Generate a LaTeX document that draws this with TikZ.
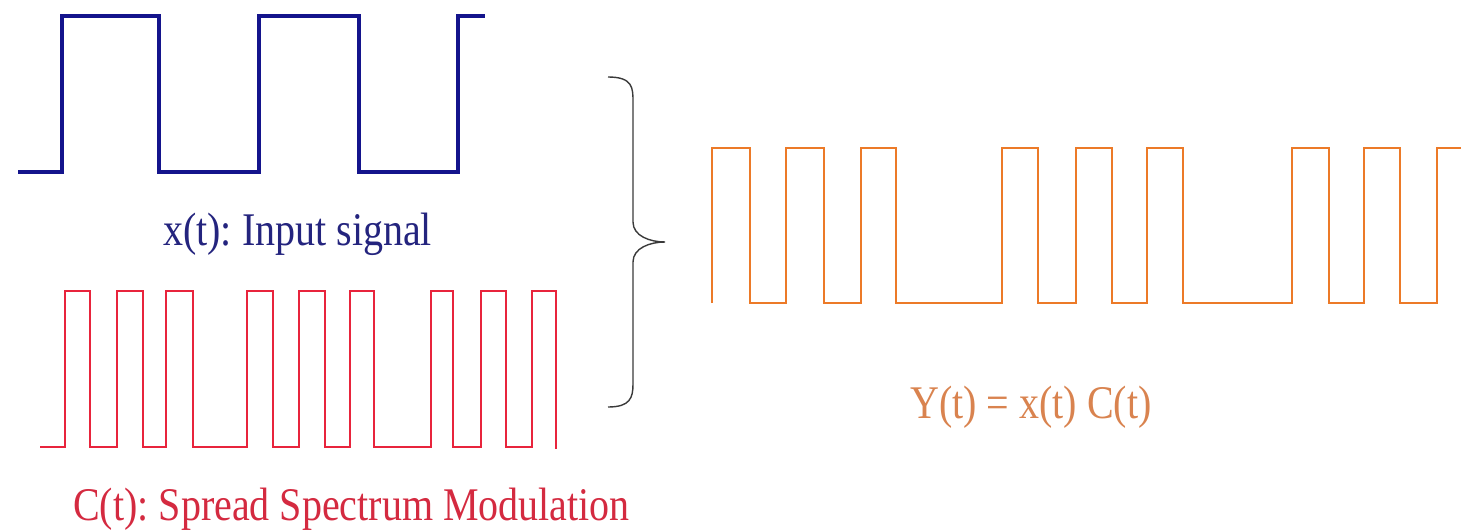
\documentclass[tikz,border=0pt]{standalone}
\usepackage{fontspec}
\setmainfont{Liberation Serif}
\frenchspacing
\definecolor{sigblue}{HTML}{14148C}
\definecolor{sigred}{HTML}{E8243C}
\definecolor{txtred}{HTML}{D42A40}
\definecolor{sigorange}{HTML}{EC7A28}
\definecolor{txtorange}{HTML}{D9834F}
\definecolor{txtblue}{HTML}{24247E}
\definecolor{bracegray}{HTML}{3A3A3A}
\begin{document}
\begin{tikzpicture}[x=1pt,y=-1pt,
  wave/.style={line join=miter},
  bluewave/.style={wave,draw=sigblue,line width=4pt},
  redwave/.style={wave,draw=sigred,line width=2.9pt},
  orangewave/.style={wave,draw=sigorange,line width=2.8pt},
  lbl/.style={anchor=base west,inner sep=0pt,font=\fontsize{40}{48}\selectfont},
  bracestyle/.style={draw=bracegray,line width=1.4pt}]
\useasboundingbox (0,0) rectangle (1461,532);
% x(t)
\draw[bluewave] (18,172) -- (62,172) -- (62,16) -- (159,16) -- (159,172) -- (259,172) -- (259,16) -- (359,16) -- (359,172) -- (458,172) -- (458,16) -- (485,16);
\node[lbl,text=txtblue] (xlabel) at (163,245) {\scalebox{1}[1.17]{x(t): Input signal}};
% C(t)
\draw[redwave] (40,447) -- (65,447) -- (65,291) -- (90,291) -- (90,447) -- (117,447) -- (117,291) -- (143,291) -- (143,447) -- (166,447) -- (166,291) -- (193,291) -- (193,447) -- (247,447) -- (247,291) -- (273,291) -- (273,447) -- (299,447) -- (299,291) -- (325,291) -- (325,447) -- (350,447) -- (350,291) -- (374,291) -- (374,447) -- (431,447) -- (431,291) -- (453,291) -- (453,447) -- (481,447) -- (481,291) -- (506,291) -- (506,447) -- (532,447) -- (532,291) -- (556,291) -- (556,449);
\node[lbl,text=txtred] (clabel) at (73,520) {\scalebox{1}[1.17]{C(t): Spread Spectrum Modulation}};
% brace
\coordinate (btop) at (608,77);
\coordinate (btip) at (665,242);
\coordinate (bbot) at (608,407);
\draw[bracestyle] (btop) .. controls (633,77) and (633,88) .. (633,102) -- (633,222) .. controls (633,236) and (650,242) .. (btip) .. controls (650,242) and (633,248) .. (633,262) -- (633,384) .. controls (633,398) and (630,407) .. (bbot);
% Y(t)
\draw[orangewave] (712,303) -- (712,148) -- (750,148) -- (750,303) -- (786,303) -- (786,148) -- (824,148) -- (824,303) -- (861,303) -- (861,148) -- (896,148) -- (896,303) -- (1002,303) -- (1002,148) -- (1038,148) -- (1038,303) -- (1076,303) -- (1076,148) -- (1112,148) -- (1112,303) -- (1147,303) -- (1147,148) -- (1183,148) -- (1183,303) -- (1292,303) -- (1292,148) -- (1329,148) -- (1329,303) -- (1364,303) -- (1364,148) -- (1400,148) -- (1400,303) -- (1437,303) -- (1437,148) -- (1461,148);
\node[lbl,text=txtorange] (ylabel) at (910,418) {\scalebox{1}[1.17]{Y(t) = x(t) C(t)}};
\end{tikzpicture}
\end{document}
